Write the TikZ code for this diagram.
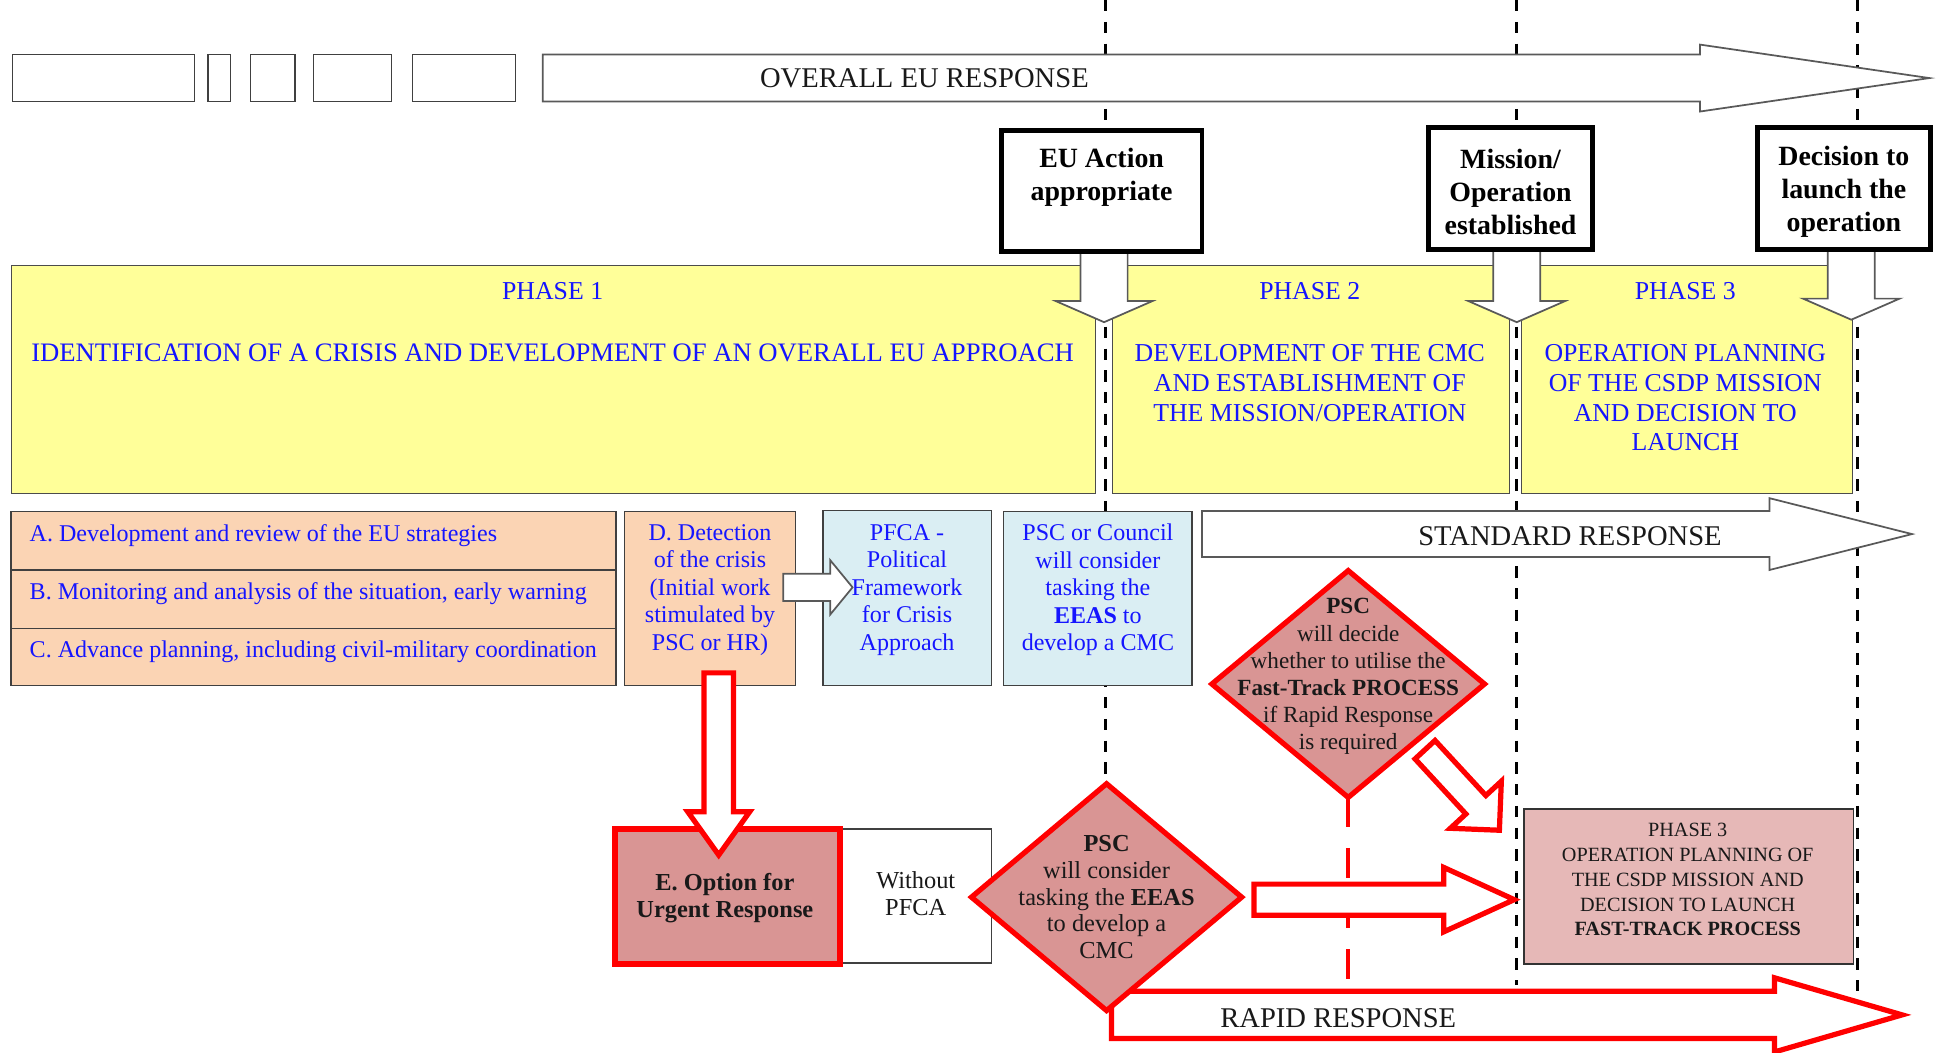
\documentclass[tikz,border=0pt]{standalone}
\usepackage{fontspec}
\setmainfont{Liberation Serif}
\usetikzlibrary{shapes.geometric,calc}
\definecolor{phy}{HTML}{FFFF99}
\definecolor{peach}{HTML}{FBD4B4}
\definecolor{lblue}{HTML}{DAEEF3}
\definecolor{rose}{HTML}{D99594}
\definecolor{lrose}{HTML}{E6B8B7}
\definecolor{txtblue}{HTML}{1515FF}
\definecolor{rred}{HTML}{FF0000}
\newcommand{\bx}[7]{%
  \pgfmathsetmacro{\bxw}{(#5-#3)*0.025}%
  \pgfmathsetmacro{\bxh}{(#6-#4)*0.025}%
  \node[#2, minimum width=\bxw cm, minimum height=\bxh cm] (#1) at ({(#3+#5)/2},{(#4+#6)/2}) {#7};%
}
\newcommand{\barrow}[6]{%
  \path ($(#3)!#6!(#2)$) coordinate (bac);
  \path[#1] ($(#2)!#4!90:(#3)$) -- ($(bac)!#4!90:(#3)$) -- ($(bac)!#5!90:(#3)$) -- (#3)
     -- ($(bac)!#5!-90:(#3)$) -- ($(bac)!#4!-90:(#3)$) -- ($(#2)!#4!-90:(#3)$) -- cycle;
}
\begin{document}
\begin{tikzpicture}[x=0.025cm,y=-0.025cm,
  every node/.style={inner sep=0pt,outer sep=0pt},
  thinbox/.style={draw=black!75, line width=0.9pt, fill=white},
  decbox/.style={draw=black, line width=2.8pt, fill=white},
  dectext/.style={align=center, font=\fontsize{16}{19}\selectfont\bfseries},
  phasebox/.style={draw=black!70, line width=0.7pt, fill=phy},
  peachbox/.style={draw=black!75, line width=0.8pt, fill=peach},
  lbbox/.style={draw=black!75, line width=0.8pt, fill=lblue},
  ftbox/.style={draw=black!80, line width=0.8pt, fill=lrose},
  ebox/.style={draw=rred, line width=3.5pt, fill=rose},
  whitearr/.style={draw=black!65, line width=1pt, fill=white, line join=miter},
  redarr/.style={draw=rred, line width=3pt, fill=white, line join=miter},
  vdash/.style={draw=black, line width=1.6pt, dash pattern=on 6.5pt off 6pt},
  rdash/.style={draw=rred, line width=2.3pt, dash pattern=on 17pt off 12pt},
  reddiam/.style={diamond, draw=rred, line width=3pt, fill=rose},
  phtext/.style={text=txtblue, align=center, font=\fontsize{14.8}{17.1}\selectfont},
  txtA/.style={text=txtblue, font=\fontsize{13.8}{16}\selectfont},
  bltext/.style={text=txtblue, align=center, font=\fontsize{13.8}{15.8}\selectfont},
  dtexta/.style={text=black!90, align=center, font=\fontsize{13.3}{15.6}\selectfont},
  dtextb/.style={text=black!90, align=center, font=\fontsize{14}{15.3}\selectfont},
  fttext/.style={text=black!90, align=center, font=\fontsize{11.6}{14.2}\selectfont},
  etext/.style={text=black!90, align=center, font=\fontsize{14}{15.6}\selectfont\bfseries},
  wtext/.style={text=black!90, align=center, font=\fontsize{14}{15.6}\selectfont},
  bigtext/.style={text=black!90, font=\fontsize{16.4}{19}\selectfont},
]
\useasboundingbox (0,0) rectangle (1568,849);

% timeline dashed lines
\coordinate (d1t) at (892,0);  \coordinate (d1b) at (892,632);
\coordinate (d2t) at (1224,0); \coordinate (d2b) at (1224,795);
\coordinate (d3t) at (1499,0); \coordinate (d3b) at (1499,810);
\draw[vdash] (d1t) -- (d1b);
\draw[vdash] (d2t) -- (d2b);
\draw[vdash] (d3t) -- (d3b);

% top empty boxes
\bx{tb1}{thinbox}{10}{44}{157}{82}{}
\bx{tb2}{thinbox}{168}{44}{186}{82}{}
\bx{tb3}{thinbox}{202}{44}{238}{82}{}
\bx{tb4}{thinbox}{253}{44}{316}{82}{}
\bx{tb5}{thinbox}{333}{44}{416}{82}{}

% overall arrow
\coordinate (ovs) at (438,63); \coordinate (ove) at (1557,63);
\barrow{whitearr}{ovs}{ove}{13.5pt}{19.2pt}{131.6pt}
\node[bigtext] (ovl) at (746,63) {OVERALL EU RESPONSE};

% phase panels
\bx{ph1}{phasebox}{9}{214}{884}{398}{}
\bx{ph2}{phasebox}{898}{214}{1218}{398}{}
\bx{ph3}{phasebox}{1228}{214}{1495}{398}{}
\node[phtext] (p1h) at (446,235) {PHASE 1};
\node[phtext, font=\fontsize{15.3}{17.1}\selectfont] (p1t) at (446,285) {IDENTIFICATION OF A CRISIS AND DEVELOPMENT OF AN OVERALL EU APPROACH};
\node[phtext] (p2h) at (1057,235) {PHASE 2};
\node[phtext] (p2t) at (1057,309) {DEVELOPMENT OF THE CMC\\AND ESTABLISHMENT OF\\THE MISSION/OPERATION};
\node[phtext] (p3h) at (1360,235) {PHASE 3};
\node[phtext] (p3t) at (1360,321) {OPERATION PLANNING\\OF THE CSDP MISSION\\AND DECISION TO\\LAUNCH};

% decision boxes and their arrows
\coordinate (a1s) at (891,203); \coordinate (a1e) at (891,260);
\barrow{whitearr}{a1s}{a1e}{13.5pt}{27.7pt}{12.1pt}
\coordinate (a2s) at (1224,201); \coordinate (a2e) at (1224,260);
\barrow{whitearr}{a2s}{a2e}{13.5pt}{27.7pt}{12.1pt}
\coordinate (a3s) at (1494,201); \coordinate (a3e) at (1494,258);
\barrow{whitearr}{a3s}{a3e}{13.5pt}{27.7pt}{12.1pt}
\bx{eua}{decbox}{808}{105}{970}{203}{}
\bx{moe}{decbox}{1153}{103}{1285}{201}{}
\bx{dlo}{decbox}{1418}{103}{1558}{201}{}
\node[dectext] (euat) at (889,143) {EU Action\\appropriate};
\node[dectext] (moet) at (1219,155) {Mission/\\Operation\\established};
\node[dectext] (dlot) at (1488,155) {Decision to\\launch the\\operation};

% A, B, C, D boxes
\bx{ba}{peachbox}{9}{413}{497}{460}{}
\bx{bb}{peachbox}{9}{460}{497}{507}{}
\bx{bc}{peachbox}{9}{507}{497}{553}{}
\node[txtA, anchor=west] (tA) at (24,432) {A. Development and review of the EU strategies};
\node[txtA, anchor=west] (tB) at (24,479) {B. Monitoring and analysis of the situation, early warning};
\node[txtA, anchor=west] (tC) at (24,526) {C. Advance planning, including civil-military coordination};
\bx{bd}{peachbox}{504}{413}{642}{553}{}
\node[bltext] (tD) at (573,476) {D. Detection\\of the crisis\\(Initial work\\stimulated by\\PSC or HR)};

% PFCA and PSC/Council boxes
\bx{bp}{lbbox}{664}{412}{800}{553}{}
\coordinate (a5s) at (632,474); \coordinate (a5e) at (688,474);
\barrow{whitearr}{a5s}{a5e}{7.8pt}{15.6pt}{12.8pt}
\node[bltext] (tP) at (732,476) {PFCA -\\Political\\Framework\\for Crisis\\Approach};
\bx{bq}{lbbox}{810}{413}{962}{553}{}
\node[bltext] (tQ) at (886,476) {PSC or Council\\will consider\\tasking the\\\textbf{EEAS} to\\develop a CMC};

% standard response
\coordinate (sts) at (970,431); \coordinate (ste) at (1543,431);
\barrow{whitearr}{sts}{ste}{13.2pt}{20.6pt}{81.8pt}
\node[bigtext] (stl) at (1267,433) {STANDARD RESPONSE};

% PSC decide diamond
\node[reddiam, minimum width=5.5cm, minimum height=4.575cm] (dm1) at (1088,552) {};
\node[dtexta] (dm1t) at (1088,546) {\textbf{PSC}\\will decide\\whether to utilise the\\\textbf{Fast-Track PROCESS}\\if Rapid Response\\is required};
\coordinate (rdb) at (1088,790);
\draw[rdash] (dm1.south) -- (rdb);
\coordinate (dgs) at (1150,605); \coordinate (dge) at (1210,670);
\barrow{redarr}{dgs}{dge}{7.8pt}{19.9pt}{19.9pt}

% phase 3 fast-track box
\bx{ft}{ftbox}{1230}{653}{1496}{778}{}
\node[fttext] (ftt) at (1362,710) {PHASE 3\\OPERATION PLANNING OF\\THE CSDP MISSION AND\\DECISION TO LAUNCH\\\textbf{FAST-TRACK PROCESS}};

% E option and without PFCA
\bx{wp}{thinbox}{678}{669}{800}{777}{}
\node[wtext] (wpt) at (739,721) {Without\\PFCA};
\bx{eo}{ebox}{496}{669}{678}{778}{}
\node[etext] (eot) at (585,725) {E. Option for\\Urgent Response};
\coordinate (a7s) at (580,543); \coordinate (a7e) at (580,690);
\barrow{redarr}{a7s}{a7e}{8.5pt}{17.8pt}{24.9pt}

% rapid response
\coordinate (rps) at (897,819); \coordinate (rpe) at (1535,819);
\barrow{redarr}{rps}{rpe}{13.5pt}{21.3pt}{73.3pt}
\node[bigtext] (rpl) at (1080,822) {RAPID RESPONSE};

% PSC consider diamond
\coordinate (a9s) at (1012,726); \coordinate (a9e) at (1222,726);
\barrow{redarr}{a9s}{a9e}{8.9pt}{18.5pt}{40.5pt}
\node[reddiam, minimum width=5.45cm, minimum height=4.575cm] (dm2) at (893,724) {};
\node[dtextb] (dm2t) at (893,724) {\textbf{PSC}\\will consider\\tasking the \textbf{EEAS}\\to develop a\\CMC};
\end{tikzpicture}
\end{document}
